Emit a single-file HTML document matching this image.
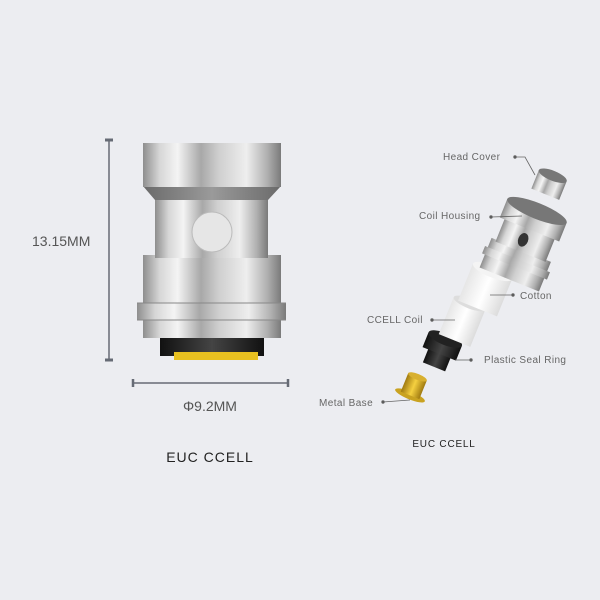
<!DOCTYPE html>
<html><head><meta charset="utf-8"><style>
html,body{margin:0;padding:0;background:#ecedf1;}
svg{display:block}
text{font-family:"Liberation Sans",sans-serif;}
</style></head><body>
<svg width="600" height="600" viewBox="0 0 600 600">
<defs>
<linearGradient id="m" x1="0" x2="1" y1="0" y2="0">
<stop offset="0" stop-color="#8e8e8e"/><stop offset="0.12" stop-color="#d6d6d6"/><stop offset="0.25" stop-color="#f4f4f4"/><stop offset="0.42" stop-color="#a8a8a8"/><stop offset="0.55" stop-color="#cfcfcf"/><stop offset="0.75" stop-color="#eeeeee"/><stop offset="0.9" stop-color="#b0b0b0"/><stop offset="1" stop-color="#7a7a7a"/>
</linearGradient>
<linearGradient id="d" x1="0" x2="1"><stop offset="0" stop-color="#6a6a6a"/><stop offset="0.5" stop-color="#9a9a9a"/><stop offset="1" stop-color="#6a6a6a"/></linearGradient>
<linearGradient id="k" x1="0" x2="1"><stop offset="0" stop-color="#111"/><stop offset="0.5" stop-color="#444"/><stop offset="1" stop-color="#111"/></linearGradient>
<linearGradient id="w" x1="0" x2="1"><stop offset="0" stop-color="#e6e6e6"/><stop offset="0.5" stop-color="#fff"/><stop offset="1" stop-color="#dcdcdc"/></linearGradient>
<linearGradient id="g" x1="0" x2="1"><stop offset="0" stop-color="#a07a10"/><stop offset="0.5" stop-color="#f5d040"/><stop offset="1" stop-color="#a07a10"/></linearGradient>
</defs>
<g stroke="#666b75" stroke-width="1.5" fill="none">
<line x1="109" y1="140" x2="109" y2="360"/><line x1="105" y1="140" x2="113" y2="140" stroke-width="3"/><line x1="105" y1="360" x2="113" y2="360" stroke-width="3"/>
<line x1="133" y1="383" x2="288" y2="383"/><line x1="133" y1="379" x2="133" y2="387" stroke-width="2.5"/><line x1="288" y1="379" x2="288" y2="387" stroke-width="2.5"/>
</g>
<text x="32" y="246" font-size="14" fill="#555">13.15MM</text>
<text x="210" y="411" font-size="14" fill="#555" text-anchor="middle">Φ9.2MM</text>
<text x="210" y="462" font-size="14" fill="#222" text-anchor="middle" letter-spacing="1">EUC CCELL</text>
<rect x="160" y="336" width="104" height="20" fill="url(#k)"/>
<rect x="174" y="352" width="84" height="8" fill="#e8c020"/>
<rect x="143" y="255" width="138" height="83" fill="url(#m)"/>
<rect x="137" y="303" width="149" height="17" fill="url(#m)"/>
<line x1="137" y1="303" x2="286" y2="303" stroke="#888"/>
<line x1="137" y1="320" x2="286" y2="320" stroke="#888"/>
<rect x="155" y="198" width="113" height="60" fill="url(#m)"/>
<polygon points="143,186 281,186 268,200 155,200" fill="url(#d)"/>
<rect x="143" y="143" width="138" height="44" fill="url(#m)"/>
<circle cx="212" cy="232" r="20" fill="#e6e6e6" stroke="#bbb"/>
<!-- exploded parts -->
<g transform="translate(413,388) rotate(22)"><ellipse cx="0" cy="8" rx="16" ry="4" fill="#c9a220"/><rect x="-10" y="-12" width="20" height="20" fill="url(#g)"/><ellipse cx="0" cy="-12" rx="10" ry="3" fill="#d8b030"/></g>
<g transform="translate(440,352) rotate(22)"><rect x="-12" y="0" width="24" height="16" fill="url(#k)"/><rect x="-18" y="-14" width="36" height="16" fill="url(#k)"/><ellipse cx="0" cy="-14" rx="18" ry="6" fill="#222"/></g>
<g transform="translate(462,322) rotate(22)"><rect x="-17" y="-20" width="34" height="40" fill="url(#w)"/><ellipse cx="0" cy="-20" rx="17" ry="5" fill="#ddd"/></g>
<g transform="translate(485,290) rotate(22)"><rect x="-21" y="-20" width="42" height="40" fill="url(#w)"/><ellipse cx="0" cy="-20" rx="21" ry="6" fill="#f4f4f4"/></g>
<g transform="translate(522,248) rotate(22)"><rect x="-32" y="2" width="64" height="32" fill="url(#m)"/><rect x="-35" y="12" width="70" height="8" fill="url(#m)"/><rect x="-27" y="-22" width="54" height="26" fill="url(#m)"/><rect x="-32" y="-40" width="64" height="20" fill="url(#m)"/><ellipse cx="0" cy="-40" rx="32" ry="8" fill="#777"/><ellipse cx="-2" cy="-8" rx="5" ry="7" fill="#333"/></g>
<g transform="translate(549,185) rotate(22)"><rect x="-15" y="-10" width="30" height="20" fill="url(#m)"/><ellipse cx="0" cy="-10" rx="15" ry="5" fill="#777"/></g>
<g font-size="10" fill="#666" letter-spacing="0.4">
<text x="443" y="160">Head Cover</text>
<text x="419" y="219">Coil Housing</text>
<text x="520" y="299">Cotton</text>
<text x="367" y="323">CCELL Coil</text>
<text x="484" y="363">Plastic Seal Ring</text>
<text x="319" y="406">Metal Base</text>
<text x="444" y="447" text-anchor="middle" fill="#222" letter-spacing="0.8">EUC CCELL</text>
</g>
<g stroke="#666" stroke-width="0.8" fill="#555">
<polyline points="515,157 525,157 535,175" fill="none"/><circle cx="515" cy="157" r="1.3"/>
<line x1="491" y1="217" x2="522" y2="216"/><circle cx="491" cy="217" r="1.3"/>
<line x1="490" y1="295" x2="513" y2="295"/><circle cx="513" cy="295" r="1.3"/>
<line x1="432" y1="320" x2="455" y2="320"/><circle cx="432" cy="320" r="1.3"/>
<line x1="455" y1="360" x2="471" y2="360"/><circle cx="471" cy="360" r="1.3"/>
<line x1="383" y1="402" x2="410" y2="400"/><circle cx="383" cy="402" r="1.3"/>
</g>
</svg>
</body></html>
